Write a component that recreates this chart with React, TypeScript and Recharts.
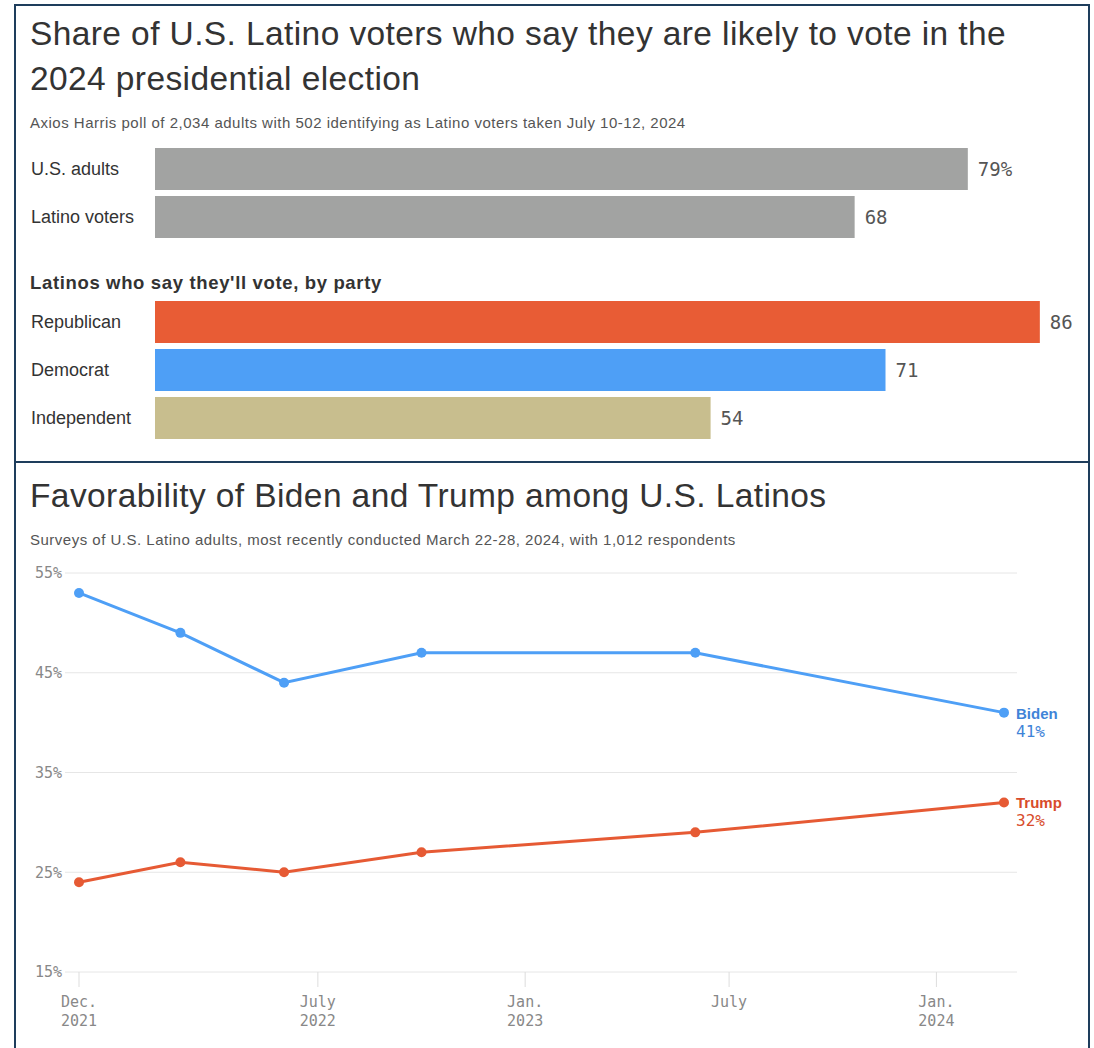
import {
  BarChart,
  Bar,
  XAxis,
  YAxis,
  Cell,
  LabelList,
  LineChart,
  Line,
  CartesianGrid,
} from "recharts";

const overallCategories = ["U.S. adults", "Latino voters"];
const overallValues = [79, 68];
const overallLabels = ["79%", "68"];

const partyCategories = ["Republican", "Democrat", "Independent"];
const partyValues = [86, 71, 54];
const partyLabels = ["86", "71", "54"];

const surveyDates = [
  "2021-12-01",
  "2022-03-01",
  "2022-06-01",
  "2022-10-01",
  "2023-06-01",
  "2024-03-01",
];
const bidenValues = [53, 49, 44, 47, 47, 41];
const trumpValues = [24, 26, 25, 27, 29, 32];

const yTicks = [15, 25, 35, 45, 55];
const xTickDates = ["2021-12-01", "2022-07-01", "2023-01-01", "2023-07-01", "2024-01-01"];
const xTickMonths = ["Dec.", "July", "Jan.", "July", "Jan."];
const xTickYears = ["2021", "2022", "2023", "", "2024"];

const SANS = '"Liberation Sans", Arial, sans-serif';
const MONO = '"DejaVu Sans Mono", monospace';
const BORDER = "#1e3d5c";
const GRAY_BAR = "#a2a3a2";
const partyColors = ["#e85c35", "#4e9ff6", "#c8be8e"];
const BIDEN = "#4e9ff6";
const TRUMP = "#e65a34";

const overallData = overallCategories.map((name, i) => ({
  name,
  value: overallValues[i],
  label: overallLabels[i],
}));
const partyData = partyCategories.map((name, i) => ({
  name,
  value: partyValues[i],
  label: partyLabels[i],
}));
const lineData = surveyDates.map((d, i) => ({
  t: Date.parse(d),
  biden: bidenValues[i],
  trump: trumpValues[i],
}));
const xTicks = xTickDates.map((d) => Date.parse(d));

function CategoryTick({ y, payload }: any) {
  return (
    <text
      x={31}
      y={y}
      dy={6}
      textAnchor="start"
      fontFamily={SANS}
      fontSize={18}
      fill="#333"
    >
      {payload.value}
    </text>
  );
}

function DateTick({ x, y, index }: any) {
  return (
    <g>
      <text x={x} y={y + 18} textAnchor="middle" fontFamily={MONO} fontSize={15} fill="#888">
        {xTickMonths[index]}
      </text>
      <text x={x} y={y + 37} textAnchor="middle" fontFamily={MONO} fontSize={15} fill="#888">
        {xTickYears[index]}
      </text>
    </g>
  );
}

function endLabel(name: string, color: string) {
  return (props: any) => {
    const { x, y, index, value } = props;
    if (index !== lineData.length - 1) return null;
    return (
      <g>
        <text x={x + 12} y={y + 6} fontFamily={SANS} fontWeight={700} fontSize={15} fill={color}>
          {name}
        </text>
        <text x={x + 12} y={y + 24} fontFamily={MONO} fontSize={16} fill={color}>
          {value}%
        </text>
      </g>
    );
  };
}

function HBars({ data, colors, top }: { data: any[]; colors: string[]; top: number }) {
  return (
    <div style={{ position: "absolute", left: 0, top }}>
      <BarChart
        width={1081}
        height={data.length * 48}
        data={data}
        layout="vertical"
        margin={{ top: 0, right: 0, bottom: 0, left: 0 }}
        barSize={42}
      >
        <XAxis type="number" domain={[0, 90]} hide />
        <YAxis
          type="category"
          dataKey="name"
          width={155}
          axisLine={false}
          tickLine={false}
          tick={<CategoryTick />}
        />
        <Bar dataKey="value" isAnimationActive={false}>
          {data.map((_, i) => (
            <Cell key={i} fill={colors[i]} />
          ))}
          <LabelList
            dataKey="label"
            position="right"
            offset={10}
            fill="#555"
            fontFamily={MONO}
            fontSize={19}
          />
        </Bar>
      </BarChart>
    </div>
  );
}

export default function App() {
  const text = (top: number, size: number, content: string, extra: any = {}) => (
    <div
      style={{
        position: "absolute",
        left: 30,
        top,
        width: 1020,
        fontFamily: SANS,
        fontSize: size,
        color: "#333",
        ...extra,
      }}
    >
      {content}
    </div>
  );

  return (
    <div
      style={{
        position: "absolute",
        left: 0,
        top: 0,
        width: 1094,
        height: 1048,
        overflow: "hidden",
        background: "#fff",
      }}
    >
      <div
        style={{
          position: "absolute",
          left: 14,
          top: 4,
          width: 1076,
          height: 459,
          border: `2px solid ${BORDER}`,
          boxSizing: "border-box",
        }}
      />
      <div
        style={{
          position: "absolute",
          left: 14,
          top: 461,
          width: 1076,
          height: 700,
          border: `2px solid ${BORDER}`,
          boxSizing: "border-box",
        }}
      />

      {text(
        11,
        33.5,
        "Share of U.S. Latino voters who say they are likely to vote in the 2024 presidential election",
        { lineHeight: "45px", letterSpacing: 0.4 }
      )}
      {text(
        113,
        15,
        "Axios Harris poll of 2,034 adults with 502 identifying as Latino voters taken July 10-12, 2024",
        { lineHeight: "20px", color: "#555", letterSpacing: 0.5 }
      )}

      <HBars data={overallData} colors={[GRAY_BAR, GRAY_BAR]} top={145} />

      {text(273, 18.5, "Latinos who say they'll vote, by party", {
        lineHeight: "20px",
        fontWeight: 700,
        letterSpacing: 0.65,
      })}

      <HBars data={partyData} colors={partyColors} top={298} />

      {text(473, 33.5, "Favorability of Biden and Trump among U.S. Latinos", {
        lineHeight: "45px",
        letterSpacing: 0.4,
      })}
      {text(
        530,
        15,
        "Surveys of U.S. Latino adults, most recently conducted March 22-28, 2024, with 1,012 respondents",
        { lineHeight: "20px", color: "#555", letterSpacing: 0.5 }
      )}

      <div style={{ position: "absolute", left: 0, top: 560 }}>
        <LineChart
          width={1094}
          height={488}
          data={lineData}
          margin={{ top: 13, right: 77, bottom: 26, left: 0 }}
        >
          <CartesianGrid vertical={false} stroke="#e6e6e6" />
          <XAxis
            dataKey="t"
            type="number"
            domain={["dataMin", "dataMax"]}
            padding={{ left: 14, right: 13 }}
            ticks={xTicks}
            interval={0}
            height={50}
            axisLine={false}
            tickSize={15}
            tickLine={{ stroke: "#dddddd" }}
            tick={<DateTick />}
          />
          <YAxis
            type="number"
            domain={[15, 55]}
            ticks={yTicks}
            width={65}
            axisLine={false}
            tickLine={false}
            tickSize={0}
            tickMargin={3}
            tickFormatter={(v) => `${v}%`}
            tick={{ fontFamily: MONO, fontSize: 15, fill: "#888" }}
          />
          <Line
            dataKey="biden"
            stroke={BIDEN}
            strokeWidth={3}
            dot={{ r: 5, fill: BIDEN, stroke: BIDEN, strokeWidth: 0 }}
            activeDot={false}
            isAnimationActive={false}
          >
            <LabelList dataKey="biden" content={endLabel("Biden", "#3f84d8")} />
          </Line>
          <Line
            dataKey="trump"
            stroke={TRUMP}
            strokeWidth={3}
            dot={{ r: 5, fill: TRUMP, stroke: TRUMP, strokeWidth: 0 }}
            activeDot={false}
            isAnimationActive={false}
          >
            <LabelList dataKey="trump" content={endLabel("Trump", "#d84c2b")} />
          </Line>
        </LineChart>
      </div>
    </div>
  );
}
